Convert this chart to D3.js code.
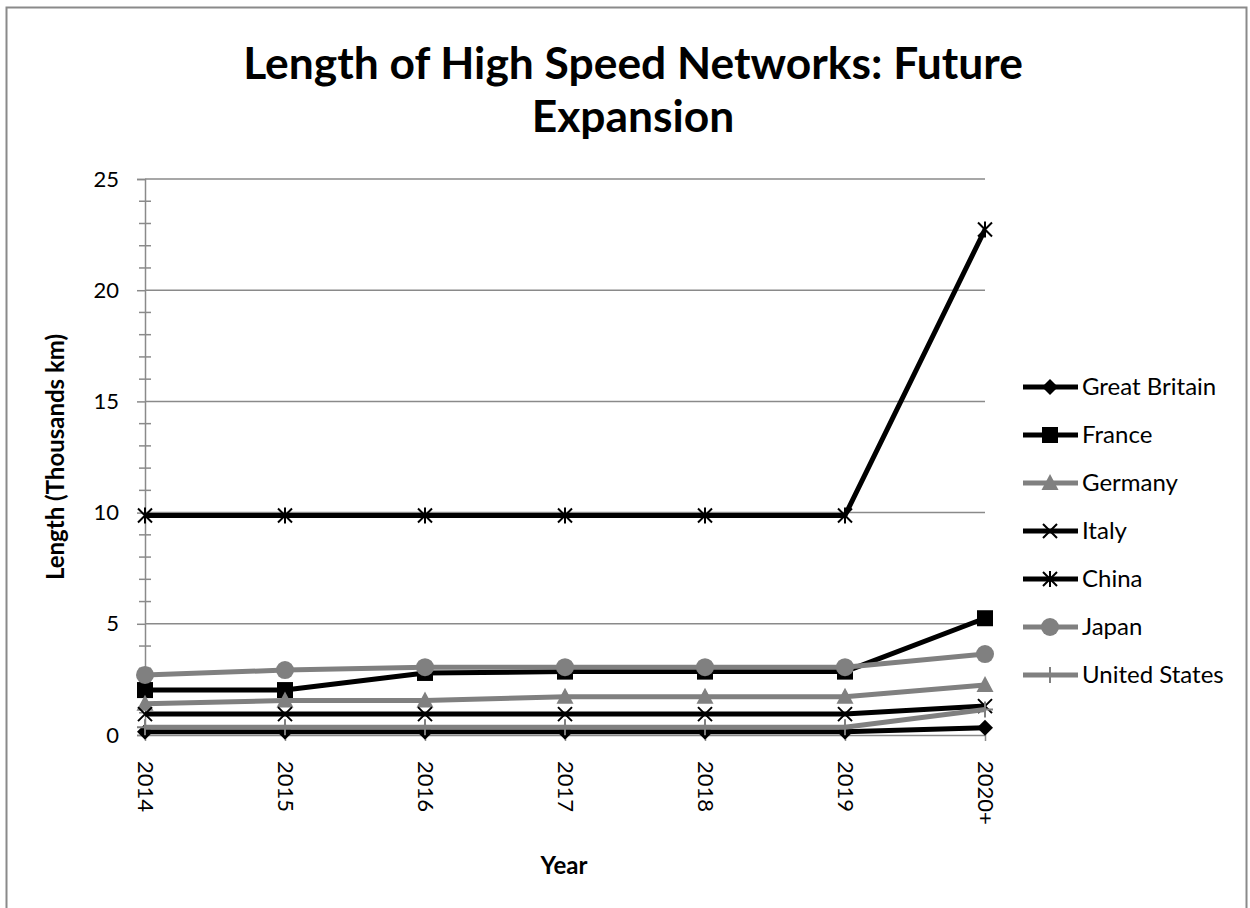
<!DOCTYPE html>
<html><head><meta charset="utf-8">
<script src="https://cdn.jsdelivr.net/npm/d3@7"></script>
<style>body{margin:0;background:#fff;} svg{display:block;font-family:Lato,"Open Sans",sans-serif;}</style>
</head><body><svg id="c" width="1250" height="908"></svg>
<script>
const years = ["2014","2015","2016","2017","2018","2019","2020+"];
const greatBritain = [0.15,0.15,0.15,0.15,0.15,0.15,0.33];
const france = [2.02,2.02,2.79,2.85,2.85,2.85,5.25];
const germany = [1.40,1.55,1.55,1.72,1.72,1.72,2.25];
const italy = [0.94,0.94,0.94,0.94,0.94,0.94,1.30];
const china = [9.87,9.87,9.87,9.87,9.87,9.87,22.73];
const japan = [2.70,2.92,3.05,3.05,3.05,3.05,3.64];
const unitedStates = [0.35,0.35,0.35,0.35,0.35,0.35,1.15];
const seriesNames = ["Great Britain","France","Germany","Italy","China","Japan","United States"];
const yTicks = [0,5,10,15,20,25];

const BLACK="#000", GRAY="#808080", AX="#8a8a8a";
const series = [
  {name:seriesNames[0], values:greatBritain, color:BLACK, marker:"diamond"},
  {name:seriesNames[1], values:france, color:BLACK, marker:"square"},
  {name:seriesNames[2], values:germany, color:GRAY, marker:"triangle"},
  {name:seriesNames[3], values:italy, color:BLACK, marker:"x"},
  {name:seriesNames[4], values:china, color:BLACK, marker:"star"},
  {name:seriesNames[5], values:japan, color:GRAY, marker:"circle"},
  {name:seriesNames[6], values:unitedStates, color:GRAY, marker:"plus"}
];

const svg = d3.select("#c");
svg.append("rect").attr("x",6.5).attr("y",7.5).attr("width",1240).attr("height",1000)
  .attr("fill","none").attr("stroke","#8a8a8a").attr("stroke-width",2);

const L=145, R=985, T=179, B=735;
const x = d3.scalePoint().domain(years).range([L,R]);
const y = d3.scaleLinear().domain([0,25]).range([B,T]);

svg.append("g").selectAll("line").data(yTicks.filter(d=>d>0)).join("line")
  .attr("x1",L).attr("x2",R).attr("y1",d=>y(d)).attr("y2",d=>y(d))
  .attr("stroke",AX).attr("stroke-width",1.5);

const yAxis = svg.append("g").attr("transform",`translate(${L},0)`)
  .call(d3.axisLeft(y).tickValues(yTicks).tickSize(8).tickPadding(18).tickFormat(d3.format("d")));
yAxis.select(".domain").attr("stroke",AX).attr("stroke-width",1.5);
yAxis.selectAll(".tick line").attr("stroke",AX).attr("stroke-width",1.5);
yAxis.selectAll(".tick text").attr("font-size",22).attr("fill","#000").attr("font-family","Lato");
svg.append("g").selectAll("line").data(d3.range(0,26).filter(d=>d%5!==0)).join("line")
  .attr("x1",L-6).attr("x2",L+6).attr("y1",d=>y(d)).attr("y2",d=>y(d))
  .attr("stroke",AX).attr("stroke-width",1.5);

const xAxis = svg.append("g").attr("transform",`translate(0,${B})`)
  .call(d3.axisBottom(x).tickSize(6).tickSizeOuter(0));
xAxis.select(".domain").attr("stroke",AX).attr("stroke-width",1.5);
xAxis.selectAll(".tick line").attr("stroke",AX).attr("stroke-width",1.5).attr("y1",-6);
xAxis.selectAll(".tick text").attr("font-size",22).attr("fill","#000").attr("font-family","Lato")
  .attr("transform","rotate(90)").attr("text-anchor","start").attr("dy","0.35em")
  .attr("x",26).attr("y",0);

function drawMarker(g, type, color){
  if(type==="diamond"){
    g.append("path").attr("d","M0,-8L8,0L0,8L-8,0Z").attr("fill",color);
  } else if(type==="square"){
    g.append("rect").attr("x",-8).attr("y",-8).attr("width",16).attr("height",16).attr("fill",color);
  } else if(type==="triangle"){
    g.append("path").attr("d","M0,-9L8.5,7L-8.5,7Z").attr("fill",color);
  } else if(type==="circle"){
    g.append("circle").attr("r",9).attr("fill",color);
  } else if(type==="x"){
    g.append("path").attr("d","M-7,-7L7,7M-7,7L7,-7").attr("stroke",color).attr("stroke-width",2).attr("fill","none");
  } else if(type==="star"){
    g.append("path").attr("d","M-7,-7L7,7M-7,7L7,-7M0,-8L0,8").attr("stroke",color).attr("stroke-width",2).attr("fill","none");
  } else if(type==="plus"){
    g.append("path").attr("d","M0,-8L0,8M-8,0L8,0").attr("stroke",color).attr("stroke-width",2).attr("fill","none");
  }
}

const line = d3.line().x((d,i)=>x(years[i])).y(d=>y(d));
series.forEach(s=>{
  const g = svg.append("g");
  g.append("path").attr("d",line(s.values)).attr("fill","none")
    .attr("stroke",s.color).attr("stroke-width",5).attr("stroke-linejoin","round");
  s.values.forEach((v,i)=>{
    const mg = g.append("g").attr("transform",`translate(${x(years[i])},${y(v)})`);
    drawMarker(mg, s.marker, s.color);
  });
});

const lg = svg.append("g");
series.forEach((s,i)=>{
  const cy = 387 + i*48;
  const g = lg.append("g").attr("transform",`translate(0,${cy})`);
  g.append("line").attr("x1",1023).attr("x2",1078).attr("y1",0).attr("y2",0)
    .attr("stroke",s.color).attr("stroke-width",5);
  const mg = g.append("g").attr("transform","translate(1050,0)");
  drawMarker(mg, s.marker, s.color);
  g.append("text").attr("x",1082).attr("y",0).attr("dy","0.35em")
    .attr("font-size",24).text(s.name);
});

const t1 = svg.append("text").attr("x",633).attr("y",79).attr("text-anchor","middle")
  .attr("font-size",43).attr("font-weight","bold").text("Length of High Speed Networks: Future");
const w = t1.node().getComputedTextLength();
const fs = 43*780/w;
t1.attr("font-size",fs);
svg.append("text").attr("x",633).attr("y",132).attr("text-anchor","middle")
  .attr("font-size",fs).attr("font-weight","bold").text("Expansion");

svg.append("text").attr("transform","translate(64,457) rotate(-90)").attr("text-anchor","middle")
  .attr("font-size",24).attr("font-weight","bold").text("Length (Thousands km)");
svg.append("text").attr("x",564).attr("y",874).attr("text-anchor","middle")
  .attr("font-size",24).attr("font-weight","bold").text("Year");
</script></body></html>
